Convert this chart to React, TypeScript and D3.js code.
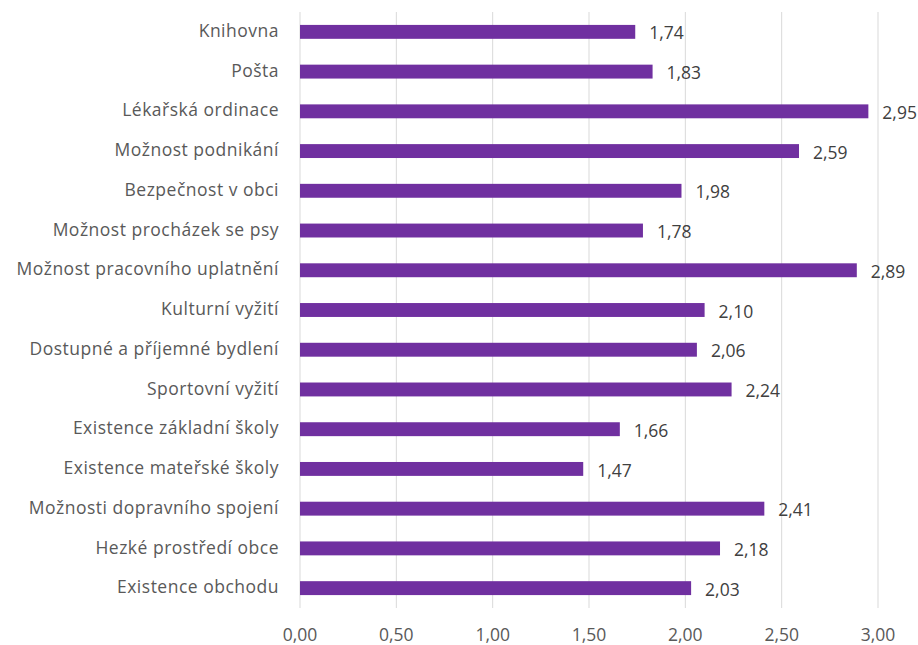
import React, { useEffect, useRef } from 'react';
import * as d3 from 'd3';

const categories = [
  'Knihovna',
  'Pošta',
  'Lékařská ordinace',
  'Možnost podnikání',
  'Bezpečnost v obci',
  'Možnost procházek se psy',
  'Možnost pracovního uplatnění',
  'Kulturní vyžití',
  'Dostupné a příjemné bydlení',
  'Sportovní vyžití',
  'Existence základní školy',
  'Existence mateřské školy',
  'Možnosti dopravního spojení',
  'Hezké prostředí obce',
  'Existence obchodu',
];
const values = [1.74, 1.83, 2.95, 2.59, 1.98, 1.78, 2.89, 2.1, 2.06, 2.24, 1.66, 1.47, 2.41, 2.18, 2.03];
const ticks = [0, 0.5, 1, 1.5, 2, 2.5, 3];

const fmt = (v: number) => v.toFixed(2).replace('.', ',');

const App = () => {
  const svgRef = useRef<SVGSVGElement>(null);

  useEffect(() => {
    const svg = d3.select(svgRef.current);
    svg.selectAll('*').remove();
    const font = "'Open Sans', 'Noto Sans', sans-serif";
    const fs = 17.5;

    const x = d3.scaleLinear().domain([0, 3]).range([300, 878]);
    const y = d3.scaleBand<string>().domain(categories).range([12, 608]).paddingInner(0.65).paddingOuter(0.325);

    // gridlines
    svg.append('g')
      .selectAll('line')
      .data(ticks)
      .join('line')
      .attr('x1', (d) => x(d))
      .attr('x2', (d) => x(d))
      .attr('y1', 12)
      .attr('y2', 608)
      .attr('stroke', '#d9d9d9')
      .attr('stroke-width', 1);

    // tick labels
    svg.append('g')
      .selectAll('text')
      .data(ticks)
      .join('text')
      .attr('x', (d) => x(d))
      .attr('y', 641)
      .attr('text-anchor', 'middle')
      .attr('font-family', font)
      .attr('font-size', fs)
      .attr('fill', '#595959')
      .text((d) => fmt(d));

    // category labels
    svg.append('g')
      .selectAll('text')
      .data(categories)
      .join('text')
      .attr('x', 279)
      .attr('y', (d) => y(d)! + y.bandwidth() / 2 - 1)
      .attr('dy', '0.35em')
      .attr('text-anchor', 'end')
      .attr('font-family', font)
      .attr('font-size', fs)
      .attr('letter-spacing', 0.5)
      .attr('fill', '#595959')
      .text((d) => d);

    // bars
    svg.append('g')
      .selectAll('rect')
      .data(values)
      .join('rect')
      .attr('x', x(0))
      .attr('y', (d, i) => y(categories[i])!)
      .attr('width', (d) => x(d) - x(0))
      .attr('height', y.bandwidth())
      .attr('fill', '#7030a0');

    // value labels
    svg.append('g')
      .selectAll('text')
      .data(values)
      .join('text')
      .attr('x', (d) => x(d) + 14)
      .attr('y', (d, i) => y(categories[i])! + y.bandwidth() / 2 + 1.5)
      .attr('dy', '0.35em')
      .attr('font-family', font)
      .attr('font-size', fs)
      .attr('fill', '#404040')
      .text((d) => fmt(d));
  }, []);

  return (
    <svg
      ref={svgRef}
      width={918}
      height={645}
      style={{ position: 'absolute', left: 0, top: 0, background: '#fff' }}
    />
  );
};

export default App;
